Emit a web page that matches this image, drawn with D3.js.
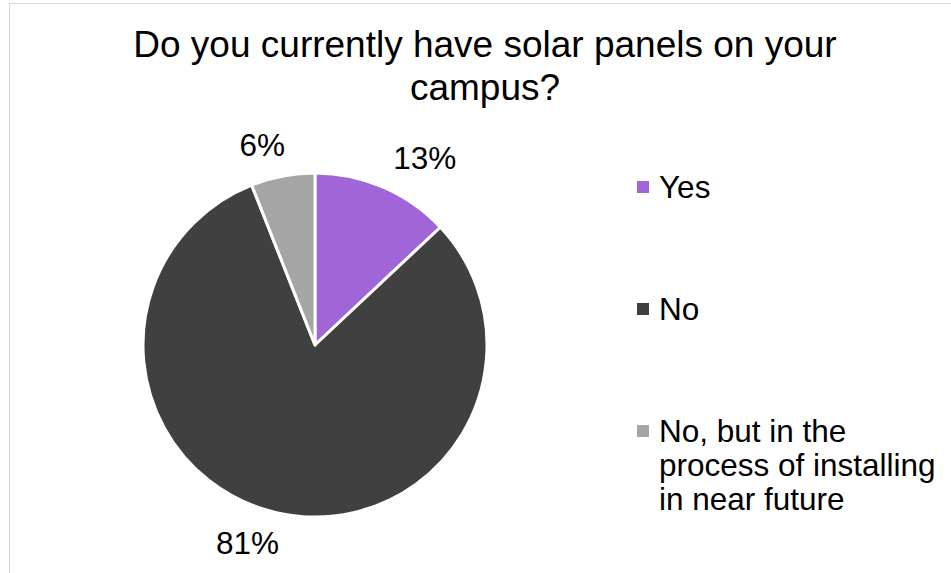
<!DOCTYPE html>
<html>
<head>
<meta charset="utf-8">
<script src="https://cdn.jsdelivr.net/npm/d3@7"></script>
<style>
  html, body { margin: 0; padding: 0; background: #fff; }
  svg { display: block; font-family: "Liberation Sans", Arial, sans-serif; }
</style>
</head>
<body>
<svg id="chart" width="951" height="573"></svg>
<script>
const titleLines = ["Do you currently have solar panels on your", "campus?"];
const categories = ["Yes", "No", "No, but in the process of installing in near future"];
const legendLines = [["Yes"], ["No"], ["No, but in the", "process of installing", "in near future"]];
const values = [13, 81, 6];
const colors = ["#a066d8", "#404040", "#a5a5a5"];

const W = 951, H = 573;
const svg = d3.select("#chart");

// chart border
svg.append("rect")
  .attr("x", 9.5).attr("y", 3.5)
  .attr("width", 960).attr("height", 600)
  .attr("fill", "#fff").attr("stroke", "#d9d9d9").attr("stroke-width", 1);

// title
const title = svg.append("text")
  .attr("text-anchor", "middle")
  .attr("font-size", 37)
  .attr("fill", "#000");
titleLines.forEach((t, i) => {
  title.append("tspan").attr("x", 485).attr("y", 57 + i * 43).text(t);
});

// pie
const cx = 315, cy = 345, R = 172;
const pie = d3.pie().sort(null).value(d => d)(values);
const arc = d3.arc().innerRadius(0).outerRadius(R);
const g = svg.append("g").attr("transform", `translate(${cx},${cy})`);
g.selectAll("path").data(pie).join("path")
  .attr("d", arc)
  .attr("fill", (d, i) => colors[i])
  .attr("stroke", "#fff")
  .attr("stroke-width", 3)
  .attr("stroke-linejoin", "round");

// data labels (outside end): nearest corner of label box placed just outside the pie
const labelR = R + 20;
const capH = 22;
g.selectAll("text.lbl").data(pie).join("text")
  .attr("class", "lbl")
  .attr("font-size", 31.5)
  .attr("fill", "#000")
  .each(function(d) {
    const a = (d.startAngle + d.endAngle) / 2;
    const px = Math.sin(a) * labelR;
    const py = -Math.cos(a) * labelR;
    const sel = d3.select(this);
    sel.attr("text-anchor", Math.sin(a) >= 0 ? "start" : "end")
       .attr("x", px + (Math.sin(a) >= 0 ? 2 : 6))
       .attr("y", Math.cos(a) >= 0 ? py : py + capH);
  })
  .text(d => Math.round(d.value) + "%");

// legend
const legendX = 637, sq = 12;
const legendY = d3.scalePoint().domain(categories).range([198, 442]);
const lg = svg.append("g");
categories.forEach((c, i) => {
  const by = legendY(c);
  lg.append("rect")
    .attr("x", legendX).attr("y", by - 17)
    .attr("width", sq).attr("height", sq)
    .attr("fill", colors[i]);
  const t = lg.append("text").attr("font-size", 31.5).attr("fill", "#000");
  legendLines[i].forEach((ln, j) => {
    t.append("tspan").attr("x", legendX + 22).attr("y", by + j * 34).text(ln);
  });
});
</script>
</body>
</html>
